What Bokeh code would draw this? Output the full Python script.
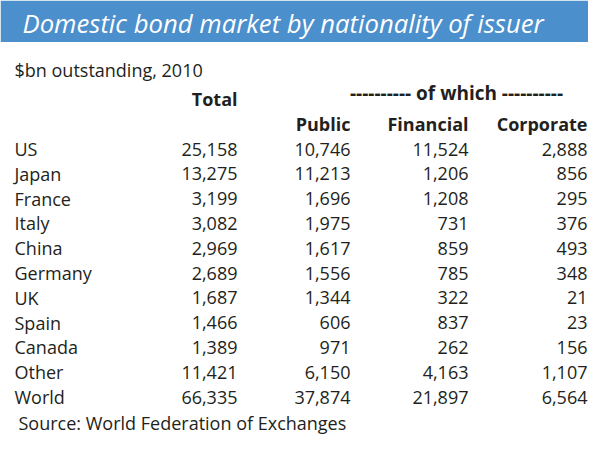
from bokeh.plotting import figure
from bokeh.models import ColumnDataSource, Range1d
from bokeh.core.properties import value
from bokeh.embed import file_html
from bokeh.resources import INLINE

title = "Domestic bond market by nationality of issuer"
subtitle = "$bn outstanding, 2010"
source_note = "Source: World Federation of Exchanges"
countries = ["US", "Japan", "France", "Italy", "China", "Germany", "UK", "Spain", "Canada", "Other", "World"]
total = [25158, 13275, 3199, 3082, 2969, 2689, 1687, 1466, 1389, 11421, 66335]
public = [10746, 11213, 1696, 1975, 1617, 1556, 1344, 606, 971, 6150, 37874]
financial = [11524, 1206, 1208, 731, 859, 785, 322, 837, 262, 4163, 21897]
corporate = [2888, 856, 295, 376, 493, 348, 21, 23, 156, 1107, 6564]
col_headers = ["Total", "Public", "Financial", "Corporate"]
group_header = "---------- of which ----------"

FONT = "Open Sans"
TXT = "#231f20"
FS = "18px"

p = figure(width=588, height=439, output_backend="svg", toolbar_location=None,
           x_range=Range1d(0, 588), y_range=Range1d(455, 0), min_border=0,
           border_fill_color="white", background_fill_color="white")
p.axis.visible = False
p.grid.visible = False
p.outline_line_color = None

# header band
p.quad(left=[0], right=[588], top=[0], bottom=[43], fill_color="#4b8fcc", line_color=None)
p.text(x=[22], y=[24], text=[title], text_font=value(FONT), text_font_style="italic",
       text_font_size="25.7px", text_color="white", text_baseline="alphabetic", text_align="left")

p.text(x=[14], y=[72], text=[subtitle], text_font=value(FONT), text_font_size=FS,
       text_color=TXT, text_baseline="alphabetic")

col_right = [237, 350, 468, 587]
p.text(x=[col_right[0]], y=[102], text=[col_headers[0]], text_font=value(FONT), text_font_style="bold",
       text_font_size=FS, text_color=TXT, text_baseline="alphabetic", text_align="right")
p.text(x=[456], y=[96], text=[group_header], text_font=value(FONT),
       text_font_style="bold", text_font_size="19px", text_color=TXT, text_baseline="alphabetic",
       text_align="center")
p.text(x=col_right[1:], y=[128] * 3, text=col_headers[1:], text_font=value(FONT), text_font_style="bold",
       text_font_size=FS, text_color=TXT, text_baseline="alphabetic", text_align="right")

row_y = [154 + i * 25.7 for i in range(len(countries))]
src = ColumnDataSource(dict(y=row_y, c=countries,
                            t=[f"{v:,}" for v in total], pu=[f"{v:,}" for v in public],
                            fi=[f"{v:,}" for v in financial], co=[f"{v:,}" for v in corporate]))
p.text(x=14, y="y", text="c", source=src, text_font=value(FONT), text_font_size=FS,
       text_color=TXT, text_baseline="alphabetic", text_align="left")
for xr, col in zip(col_right, ["t", "pu", "fi", "co"]):
    p.text(x=xr, y="y", text=col, source=src, text_font=value(FONT), text_font_size=FS,
           text_color=TXT, text_baseline="alphabetic", text_align="right")

p.text(x=[18], y=[438], text=[source_note], text_font=value(FONT), text_font_size=FS,
       text_color=TXT, text_baseline="alphabetic", text_align="left")

open("out.html", "w").write(file_html(p, INLINE))
